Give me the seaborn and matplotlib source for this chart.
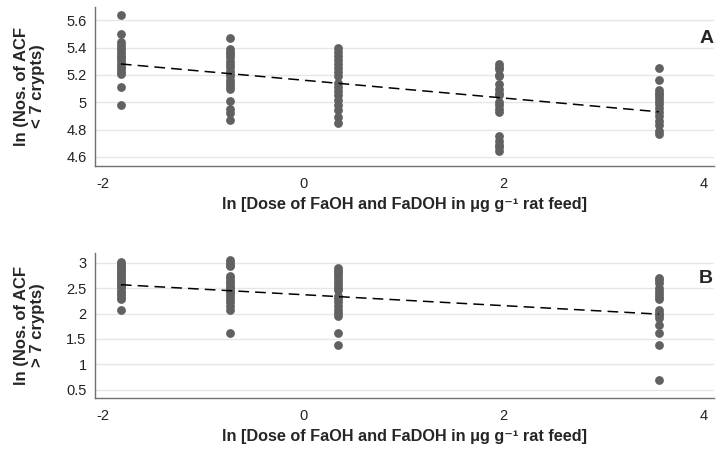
import numpy as np
import pandas as pd
import matplotlib
matplotlib.use("Agg")
import matplotlib.pyplot as plt
import seaborn as sns

# log doses (ln of ug/g feed)
dose_top = [-1.82, -0.73, 0.35, 1.95, 3.55]
dose_bot = [-1.82, -0.73, 0.35, 3.55]

# ln(number of ACF < 7 crypts) per dose group
acf_small = [
    [5.64, 5.50, 5.44, 5.42, 5.40, 5.38, 5.36, 5.34, 5.32, 5.30, 5.28, 5.26, 5.24, 5.22, 5.21, 5.11, 4.98],
    [5.47, 5.39, 5.37, 5.35, 5.33, 5.30, 5.28, 5.26, 5.23, 5.21, 5.19, 5.16, 5.14, 5.12, 5.10, 5.01, 4.95, 4.92, 4.87],
    [5.40, 5.37, 5.34, 5.31, 5.28, 5.25, 5.22, 5.19, 5.14, 5.11, 5.08, 5.05, 5.02, 4.98, 4.94, 4.89, 4.85],
    [5.28, 5.26, 5.24, 5.20, 5.19, 5.13, 5.10, 5.07, 5.05, 5.00, 4.98, 4.95, 4.93, 4.75, 4.72, 4.69, 4.67, 4.64],
    [5.25, 5.16, 5.09, 5.07, 5.05, 5.03, 5.01, 4.99, 4.96, 4.93, 4.90, 4.86, 4.83, 4.79, 4.77],
]

# ln(number of ACF > 7 crypts) per dose group
acf_large = [
    [3.02, 2.98, 2.94, 2.90, 2.86, 2.82, 2.78, 2.74, 2.70, 2.66, 2.62, 2.58, 2.54, 2.50, 2.45, 2.40, 2.37, 2.30, 2.28, 2.08],
    [3.06, 3.01, 2.96, 2.93, 2.74, 2.70, 2.65, 2.60, 2.55, 2.50, 2.45, 2.40, 2.34, 2.28, 2.22, 2.15, 2.08, 1.62],
    [2.90, 2.85, 2.80, 2.74, 2.68, 2.62, 2.56, 2.50, 2.47, 2.34, 2.28, 2.22, 2.15, 2.08, 2.01, 1.95, 1.62, 1.39],
    [2.70, 2.66, 2.61, 2.51, 2.45, 2.39, 2.33, 2.28, 2.08, 2.02, 1.98, 1.92, 1.78, 1.61, 1.39, 0.70],
]

# fitted trend (value at lowest and highest dose)
fit_x = [-1.82, 3.55]
fit_small = [5.28, 4.93]
fit_large = [2.57, 1.99]

xlabel = "ln [Dose of FaOH and FaDOH in \u03bcg g\u207b\u00b9 rat feed]"


def to_long(doses, groups):
    rows = []
    for d, vals in zip(doses, groups):
        for v in vals:
            rows.append({"dose": d, "y": v})
    return pd.DataFrame(rows)


df_a = to_long(dose_top, acf_small)
df_b = to_long(dose_bot, acf_large)

sns.set_style("white")
plt.rcParams["font.family"] = ["Liberation Sans", "DejaVu Sans"]

fig = plt.figure(figsize=(7.24, 4.51), dpi=100)
ax1 = fig.add_axes([0.131, 0.632, 0.855, 0.352])
ax2 = fig.add_axes([0.131, 0.1175, 0.855, 0.322])

dot_color = "#616161"
spine_color = "#707070"


def panel(ax, df, fit_y, yticks, ylim, ylabel, letter, letter_y):
    for t in yticks:
        ax.axhline(t, color="#e6e6e6", lw=1.0, zorder=0)
    sns.scatterplot(data=df, x="dose", y="y", ax=ax, color=dot_color,
                    s=40, linewidth=0, zorder=2)
    sns.lineplot(x=fit_x, y=fit_y, ax=ax, color="black", lw=1.1,
                 dashes=False, zorder=3).lines[-1].set_linestyle((0, (7, 4)))
    ax.set_xlim(-2.08, 4.1)
    ax.set_ylim(*ylim)
    ax.set_xticks([-2, 0, 2, 4])
    ax.set_xticklabels(["-2", "0", "2", "4"])
    ax.set_yticks(yticks)
    ax.set_yticklabels([("%g" % t) for t in yticks])
    ax.tick_params(axis="both", which="both", direction="out", length=4,
                   width=0.8, color=spine_color, labelsize=10.5, labelcolor="#222222")
    ax.tick_params(axis="y", pad=2)
    ax.tick_params(axis="x", pad=4)
    for s in ["top", "right"]:
        ax.spines[s].set_visible(False)
    for s in ["left", "bottom"]:
        ax.spines[s].set_color(spine_color)
        ax.spines[s].set_linewidth(1.0)
    ax.set_xlabel(xlabel, fontsize=11.7, fontweight="bold", labelpad=4)
    ax.set_ylabel(ylabel, fontsize=12, fontweight="bold", labelpad=15,
                  linespacing=1.1, multialignment="center")
    ax.text(0.999, letter_y, letter, transform=ax.transAxes, ha="right", va="center",
            fontsize=14, fontweight="bold")


panel(ax1, df_a, fit_small, [4.6, 4.8, 5.0, 5.2, 5.4, 5.6], (4.534, 5.695),
      "ln (Nos. of ACF\n< 7 crypts)", "A", 0.80)
panel(ax2, df_b, fit_large, [0.5, 1.0, 1.5, 2.0, 2.5, 3.0], (0.336, 3.2),
      "ln (Nos. of ACF\n> 7 crypts)", "B", 0.82)

fig.savefig("out.png", dpi=100)
